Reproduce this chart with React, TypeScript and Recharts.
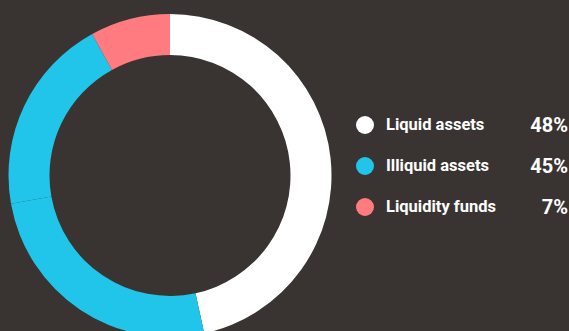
import { Cell, Legend, Pie, PieChart } from "recharts";

// legend rows
const categories = ["Liquid assets", "Illiquid assets", "Liquidity funds"];
const shareLabels = ["48%", "45%", "7%"];
const categoryColors = ["#ffffff", "#22c5ea", "#ff7b7f"];

// donut slices as drawn (illiquid assets split in two parts)
const sliceNames = ["Liquid assets", "Illiquid assets A", "Illiquid assets B", "Liquidity funds"];
const sliceValues = [46.6, 25.6, 19.8, 8.0];
const sliceColors = ["#ffffff", "#22c5ea", "#22c5ea", "#ff7b7f"];

const slices = sliceNames.map((name, i) => ({ name, value: sliceValues[i] }));

const BG = "#393432";

function LegendRows() {
  return (
    <div style={{ fontFamily: "Roboto, 'Noto Sans', sans-serif", color: "#fff" }}>
      {categories.map((c, i) => (
        <div key={c} style={{ display: "flex", alignItems: "center", height: 41 }}>
          <span
            style={{
              width: 18,
              height: 18,
              borderRadius: 9,
              background: categoryColors[i],
              marginRight: 12,
              flex: "none",
            }}
          />
          <span style={{ fontSize: 16.5, fontWeight: 700, flex: 1 }}>{c}</span>
          <span style={{ fontSize: 20, fontWeight: 700, textAlign: "right" }}>{shareLabels[i]}</span>
        </div>
      ))}
    </div>
  );
}

export default function App() {
  return (
    <div style={{ position: "absolute", left: 0, top: 0, width: 569, height: 331, background: BG, overflow: "hidden" }}>
      <PieChart width={569} height={331} margin={{ top: 0, right: 0, bottom: 0, left: 0 }}>
        <Pie
          data={slices}
          dataKey="value"
          nameKey="name"
          cx={170}
          cy={175.5}
          innerRadius={120.5}
          outerRadius={161.5}
          startAngle={90}
          endAngle={-270}
          stroke="none"
          isAnimationActive={false}
        >
          {slices.map((s, i) => (
            <Cell key={s.name} fill={sliceColors[i]} />
          ))}
        </Pie>
        <Legend
          content={() => <LegendRows />}
          wrapperStyle={{ position: "absolute", left: 356, top: 104, width: 212 }}
        />
      </PieChart>
    </div>
  );
}
